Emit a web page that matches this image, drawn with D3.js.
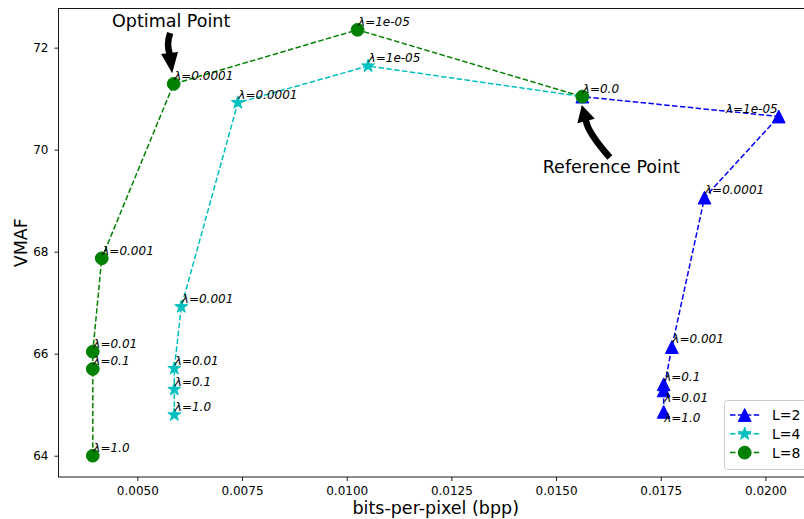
<!DOCTYPE html>
<html><head><meta charset="utf-8">
<script src="https://cdn.jsdelivr.net/npm/d3@7"></script>
<style>
body{margin:0;background:#fff}
svg{display:block}
text{font-family:"DejaVu Sans","Liberation Sans",sans-serif;fill:#000}
</style>
</head><body>
<svg id="chart" width="804" height="519"></svg>
<script>
// ---- data ----
const lambdas = ["1.0", "0.1", "0.01", "0.001", "0.0001", "1e-05", "0.0"];
const bppL2  = [0.01757, 0.01757, 0.01757, 0.017765, 0.018545, 0.020317, 0.015627];
const vmafL2 = [64.86, 65.40, 65.28, 66.13, 69.06, 70.65, 71.04];
const bppL4  = [0.005883, 0.005883, 0.005883, 0.00605, 0.0074, 0.010511, 0.015627];
const vmafL4 = [64.80, 65.30, 65.71, 66.92, 70.92, 71.64, 71.04];
const bppL8  = [0.003936, 0.003936, 0.003936, 0.00415, 0.005868, 0.010259, 0.015627];
const vmafL8 = [64.00, 65.70, 66.04, 67.87, 71.29, 72.35, 71.04];
const seriesNames = ["L=2", "L=4", "L=8"];
const xTicks = [0.005, 0.0075, 0.01, 0.0125, 0.015, 0.0175, 0.02];
const yTicks = [64, 66, 68, 70, 72];
const xLabel = "bits-per-pixel (bpp)";
const yLabel = "VMAF";

// ---- styling ----
const colors = ["#0000ff", "#00bfbf", "#008000"];
const markers = ["triangle", "star", "circle"];
const W = 804, H = 519;
const ax = {left: 58.5, right: 813, top: 8.5, bottom: 477};

const series = seriesNames.map((name, i) => ({
  name, color: colors[i], marker: markers[i],
  points: lambdas.map((l, j) => ({
    lambda: l,
    x: [bppL2, bppL4, bppL8][i][j],
    y: [vmafL2, vmafL4, vmafL8][i][j]
  }))
}));

// matplotlib-like 5% margins
const allX = [...bppL2, ...bppL4, ...bppL8], allY = [...vmafL2, ...vmafL4, ...vmafL8];
const [x0, x1] = d3.extent(allX), [y0, y1] = d3.extent(allY);
const mx = (x1 - x0) * 0.05, my = (y1 - y0) * 0.05;
const x = d3.scaleLinear().domain([x0 - mx, x1 + mx]).range([ax.left, ax.right]);
const y = d3.scaleLinear().domain([y0 - my, y1 + my]).range([ax.bottom, ax.top]);

const svg = d3.select("#chart");
svg.append("rect").attr("width", W).attr("height", H).attr("fill", "#fff");

// axes
const xAxis = d3.axisBottom(x).tickValues(xTicks).tickFormat(d3.format(".4f")).tickSizeInner(4).tickSizeOuter(0).tickPadding(5);
const gx = svg.append("g").attr("transform", `translate(0,${ax.bottom})`).call(xAxis);
gx.select(".domain").remove();
gx.selectAll("text").attr("font-size", 12).attr("font-family", "DejaVu Sans");
gx.selectAll("line").attr("stroke", "#000").attr("stroke-width", 0.9);

const yAxis = d3.axisLeft(y).tickValues(yTicks).tickFormat(d3.format("d")).tickSizeInner(4).tickSizeOuter(0).tickPadding(6);
const gy = svg.append("g").attr("transform", `translate(${ax.left},0)`).call(yAxis);
gy.select(".domain").remove();
gy.selectAll("text").attr("font-size", 12).attr("font-family", "DejaVu Sans");
gy.selectAll("line").attr("stroke", "#000").attr("stroke-width", 0.9);

// spines
svg.append("rect").attr("x", ax.left).attr("y", ax.top)
  .attr("width", ax.right - ax.left).attr("height", ax.bottom - ax.top)
  .attr("fill", "none").attr("stroke", "#000").attr("stroke-width", 0.9);

// axis labels
svg.append("text").attr("x", (ax.left + ax.right) / 2).attr("y", 513.5)
  .attr("text-anchor", "middle").attr("font-size", 17.5).text(xLabel);
svg.append("text").attr("transform", `translate(26.5,${(ax.top + ax.bottom) / 2}) rotate(-90)`)
  .attr("text-anchor", "middle").attr("font-size", 17.5).text(yLabel);

// marker drawing
const R = 6.4;
function drawMarker(g, type, cx, cy, color, r) {
  if (type === "circle") {
    g.append("circle").attr("cx", cx).attr("cy", cy).attr("r", r)
      .attr("fill", color).attr("stroke", color).attr("stroke-width", 1);
  } else if (type === "triangle") {
    g.append("path").attr("d", `M${cx},${cy - r} L${cx + r},${cy + r} L${cx - r},${cy + r} Z`)
      .attr("fill", color).attr("stroke", color).attr("stroke-width", 1).attr("stroke-linejoin", "miter");
  } else {
    g.append("path").attr("d", d3.symbol(d3.symbolStar, (r + 0.4) * (r + 0.4) / 0.8908130915292852)())
      .attr("transform", `translate(${cx},${cy})`)
      .attr("fill", color).attr("stroke", color).attr("stroke-width", 1);
  }
}

const line = d3.line().x(d => x(d.x)).y(d => y(d.y));
const plot = svg.append("g");
series.forEach(s => {
  plot.append("path").datum(s.points).attr("d", line)
    .attr("fill", "none").attr("stroke", s.color).attr("stroke-width", 1.5)
    .attr("stroke-dasharray", "5.5,2.4");
  const mg = plot.append("g");
  s.points.forEach(p => drawMarker(mg, s.marker, x(p.x), y(p.y), s.color, R));
});

// point labels
const labelNudge = {
  "L=2|1e-05": {anchor: "end", dx: -1},
  "L=2|0.01": {dy: 15},
  "L=2|1.0": {dy: 14}
};
const lg = svg.append("g");
series.forEach((s, i) => {
  s.points.forEach(p => {
    if (p.lambda === "0.0" && i !== series.length - 1) return; // shared reference point labelled once
    const n = labelNudge[s.name + "|" + p.lambda] || {};
    lg.append("text")
      .attr("x", x(p.x) + (n.dx !== undefined ? n.dx : 0.5))
      .attr("y", y(p.y) - 3.6 + (n.dy || 0))
      .attr("text-anchor", n.anchor || "start")
      .attr("font-size", 12).attr("font-style", "italic")
      .text("\u03bb=" + p.lambda);
  });
});

// annotation arrows
function fancyArrow(tail, ctrl, base, tip, sw, hw) {
  svg.append("path").attr("d", `M${tail[0]},${tail[1]} Q${ctrl[0]},${ctrl[1]} ${base[0]},${base[1]}`)
    .attr("fill", "none").attr("stroke", "#000").attr("stroke-width", sw);
  const dx = tip[0] - base[0], dy = tip[1] - base[1], L = Math.hypot(dx, dy);
  const nx = -dy / L * hw, ny = dx / L * hw;
  const b2 = [base[0] - dx / L * 1, base[1] - dy / L * 1];
  svg.append("path").attr("d", `M${b2[0] + nx},${b2[1] + ny} L${tip[0]},${tip[1]} L${b2[0] - nx},${b2[1] - ny} Z`)
    .attr("fill", "#000");
}
// Optimal point: L=8, lambda 0.0001
const opt = series[2].points[4];
const ox = x(opt.x), oy = y(opt.y);
svg.append("text").attr("x", ox - 2.5).attr("y", 27).attr("text-anchor", "middle")
  .attr("font-size", 17.5).text("Optimal Point");
fancyArrow([ox - 3.5, 33], [ox - 7.5, 44], [ox - 4, 54], [ox - 1.5, oy - 10.5], 6.5, 8.5);

// Reference point: lambda 0.0
const ref = series[2].points[6];
const rx = x(ref.x), ry = y(ref.y);
svg.append("text").attr("x", rx + 29).attr("y", 173).attr("text-anchor", "middle")
  .attr("font-size", 17.5).text("Reference Point");
fancyArrow([rx + 27.5, 157.5], [rx + 5, 132], [rx + 3.5, 120], [rx - 0.5, ry + 8.5], 6.5, 9);

// legend
const leg = svg.append("g");
leg.append("rect").attr("x", 724.5).attr("y", 400.5).attr("width", 88).attr("height", 69).attr("rx", 3)
  .attr("fill", "#fff").attr("fill-opacity", 0.8).attr("stroke", "#ccc").attr("stroke-width", 1);
series.forEach((s, i) => {
  const ly = 415 + i * 18.8;
  leg.append("line").attr("x1", 730).attr("x2", 759.5).attr("y1", ly).attr("y2", ly)
    .attr("stroke", s.color).attr("stroke-width", 1.5).attr("stroke-dasharray", "5.5,2.4");
  drawMarker(leg, s.marker, 744.7, ly, s.color, R);
  leg.append("text").attr("x", 772).attr("y", ly).attr("dy", "0.36em")
    .attr("font-size", 14).text(s.name);
});
</script>
</body></html>
